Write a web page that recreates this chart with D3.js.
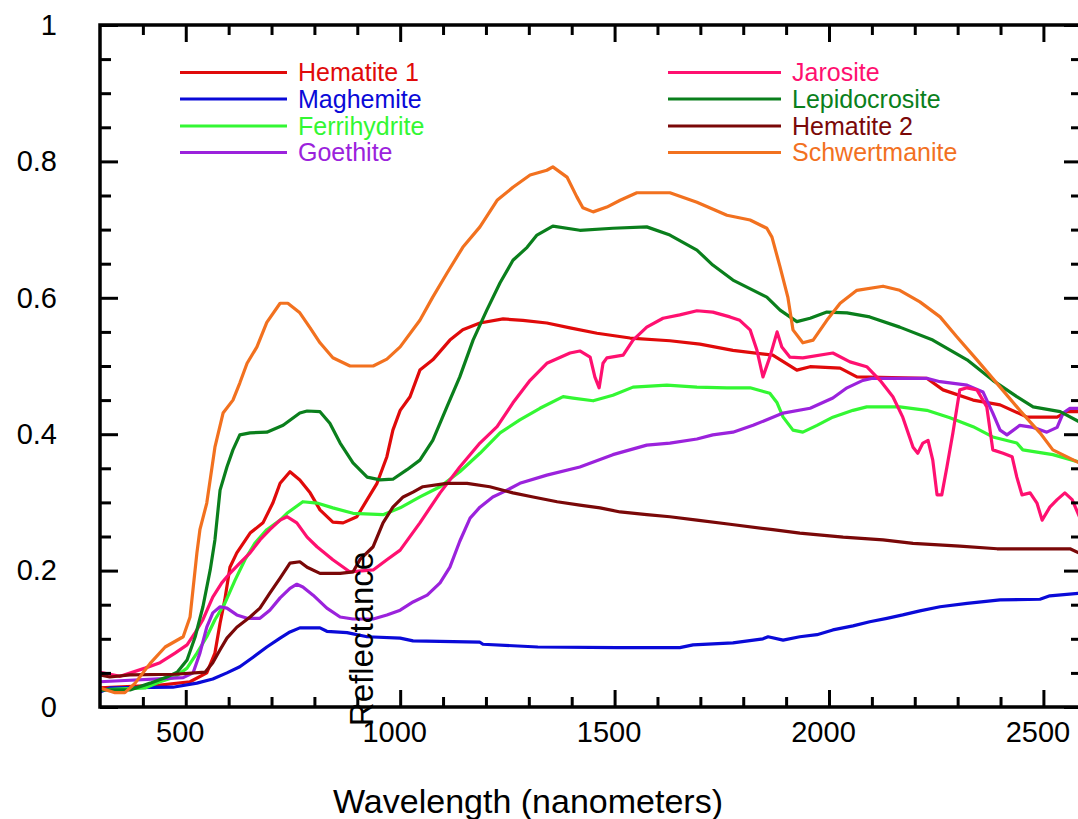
<!DOCTYPE html>
<html>
<head>
<meta charset="utf-8">
<script src="https://cdn.jsdelivr.net/npm/d3@7"></script>
<style>
  body { margin: 0; background: #fff; }
  svg { display: block; }
</style>
</head>
<body>
<svg></svg>
<script>
// series names, in legend order
let seriesNames = ['Hematite 1', 'Maghemite', 'Ferrihydrite', 'Goethite',
                   'Jarosite', 'Lepidocrosite', 'Hematite 2', 'Schwertmanite']

// [wavelength nm, reflectance]
let hematite1 = [[300,0.028],[440,0.032],[510,0.037],[549,0.05],[568,0.079],[580,0.123],[591,0.157],[603,0.205],[619,0.226],[650,0.255],[680,0.27],[703,0.299],[720,0.328],[743,0.345],[766,0.333],[790,0.314],[813,0.289],[843,0.271],[867,0.27],[899,0.279],[923,0.304],[946,0.328],[969,0.367],[983,0.406],[1000,0.435],[1023,0.455],[1046,0.494],[1076,0.509],[1116,0.538],[1146,0.553],[1186,0.563],[1240,0.569],[1286,0.567],[1342,0.563],[1396,0.556],[1459,0.548],[1536,0.541],[1629,0.537],[1699,0.532],[1776,0.523],[1869,0.516],[1925,0.494],[1956,0.499],[2026,0.497],[2065,0.484],[2228,0.482],[2266,0.465],[2336,0.45],[2399,0.443],[2462,0.425],[2532,0.425],[2555,0.433],[2590,0.433]]
let maghemite = [[300,0.022],[323,0.028],[470,0.029],[526,0.035],[563,0.041],[596,0.05],[626,0.059],[657,0.073],[689,0.088],[720,0.101],[743,0.11],[766,0.116],[813,0.116],[829,0.111],[876,0.109],[923,0.103],[1000,0.101],[1030,0.097],[1186,0.095],[1193,0.092],[1321,0.088],[1506,0.087],[1652,0.087],[1683,0.091],[1776,0.094],[1846,0.1],[1858,0.103],[1893,0.098],[1932,0.103],[1972,0.106],[2009,0.113],[2056,0.119],[2095,0.125],[2135,0.13],[2172,0.135],[2212,0.141],[2259,0.147],[2322,0.152],[2399,0.157],[2492,0.158],[2515,0.163],[2590,0.167]]
let ferrihydrite = [[300,0.025],[405,0.028],[440,0.037],[475,0.044],[503,0.057],[526,0.079],[549,0.103],[568,0.128],[591,0.152],[615,0.186],[638,0.216],[661,0.24],[689,0.26],[720,0.274],[736,0.284],[773,0.301],[806,0.299],[843,0.292],[890,0.284],[960,0.282],[1000,0.292],[1046,0.308],[1093,0.323],[1139,0.345],[1186,0.372],[1233,0.402],[1279,0.421],[1326,0.438],[1380,0.455],[1403,0.453],[1450,0.449],[1496,0.457],[1543,0.469],[1622,0.472],[1692,0.469],[1762,0.468],[1816,0.468],[1862,0.46],[1879,0.446],[1893,0.425],[1916,0.406],[1939,0.403],[1972,0.413],[2009,0.425],[2056,0.435],[2088,0.44],[2165,0.44],[2228,0.435],[2282,0.424],[2336,0.411],[2382,0.396],[2438,0.387],[2452,0.377],[2522,0.37],[2590,0.358]]
let goethite = [[300,0.037],[494,0.043],[517,0.05],[533,0.079],[549,0.117],[563,0.138],[580,0.147],[596,0.145],[619,0.135],[643,0.13],[673,0.13],[696,0.142],[720,0.16],[743,0.174],[759,0.18],[773,0.176],[797,0.164],[829,0.145],[860,0.132],[890,0.129],[937,0.129],[969,0.135],[1000,0.142],[1030,0.154],[1063,0.164],[1093,0.182],[1116,0.205],[1139,0.243],[1163,0.277],[1186,0.293],[1216,0.308],[1240,0.315],[1279,0.328],[1342,0.34],[1419,0.352],[1496,0.37],[1575,0.384],[1629,0.387],[1692,0.393],[1729,0.399],[1776,0.403],[1823,0.413],[1893,0.431],[1956,0.438],[2009,0.453],[2042,0.468],[2079,0.479],[2102,0.482],[2228,0.482],[2259,0.477],[2322,0.472],[2359,0.462],[2382,0.431],[2399,0.406],[2415,0.399],[2445,0.413],[2476,0.41],[2508,0.403],[2532,0.41],[2546,0.431],[2562,0.438],[2590,0.438]]
let jarosite = [[300,0.051],[347,0.045],[405,0.057],[440,0.065],[475,0.079],[503,0.091],[522,0.109],[540,0.128],[563,0.161],[584,0.182],[603,0.196],[626,0.211],[650,0.226],[673,0.245],[696,0.26],[720,0.274],[736,0.279],[759,0.27],[783,0.249],[806,0.235],[843,0.216],[883,0.198],[937,0.201],[969,0.216],[1000,0.23],[1046,0.27],[1093,0.314],[1139,0.352],[1186,0.387],[1226,0.411],[1263,0.446],[1303,0.479],[1342,0.504],[1396,0.519],[1419,0.522],[1443,0.513],[1454,0.484],[1464,0.468],[1473,0.504],[1482,0.512],[1520,0.516],[1543,0.538],[1575,0.557],[1613,0.57],[1652,0.575],[1692,0.581],[1729,0.579],[1769,0.572],[1792,0.567],[1816,0.553],[1832,0.523],[1846,0.484],[1862,0.513],[1879,0.55],[1890,0.528],[1909,0.513],[1939,0.512],[2009,0.519],[2049,0.506],[2088,0.499],[2119,0.479],[2149,0.455],[2172,0.425],[2196,0.381],[2207,0.372],[2219,0.387],[2231,0.391],[2242,0.362],[2252,0.311],[2263,0.311],[2275,0.352],[2289,0.402],[2305,0.465],[2322,0.468],[2345,0.465],[2368,0.44],[2382,0.377],[2406,0.372],[2427,0.367],[2438,0.337],[2450,0.311],[2469,0.314],[2485,0.299],[2497,0.274],[2515,0.293],[2532,0.304],[2550,0.314],[2567,0.304],[2590,0.27]]
let lepidocrosite = [[300,0.025],[370,0.025],[417,0.035],[456,0.044],[480,0.051],[503,0.069],[522,0.103],[540,0.147],[557,0.201],[568,0.245],[580,0.318],[596,0.352],[610,0.377],[626,0.399],[650,0.402],[689,0.403],[727,0.413],[766,0.431],[783,0.434],[813,0.433],[836,0.416],[860,0.387],[890,0.358],[923,0.337],[953,0.333],[983,0.334],[1016,0.348],[1046,0.362],[1076,0.391],[1109,0.44],[1139,0.484],[1170,0.538],[1202,0.582],[1233,0.622],[1263,0.655],[1296,0.674],[1319,0.692],[1356,0.705],[1419,0.699],[1496,0.702],[1575,0.704],[1629,0.692],[1692,0.67],[1729,0.648],[1776,0.626],[1855,0.601],[1886,0.582],[1925,0.565],[1956,0.57],[1995,0.579],[2042,0.578],[2095,0.572],[2165,0.557],[2242,0.538],[2322,0.509],[2382,0.479],[2438,0.455],[2476,0.44],[2539,0.433],[2590,0.416]]
let hematite2 = [[300,0.047],[323,0.044],[370,0.047],[475,0.048],[545,0.051],[563,0.065],[580,0.084],[596,0.101],[619,0.117],[650,0.132],[673,0.145],[696,0.167],[720,0.189],[743,0.211],[766,0.213],[783,0.205],[813,0.196],[860,0.196],[890,0.198],[906,0.216],[937,0.235],[960,0.27],[983,0.293],[1007,0.308],[1030,0.315],[1053,0.323],[1109,0.328],[1156,0.328],[1209,0.323],[1263,0.314],[1310,0.308],[1366,0.301],[1419,0.296],[1466,0.292],[1513,0.286],[1575,0.282],[1629,0.279],[1692,0.274],[1769,0.268],[1869,0.26],[1932,0.255],[2033,0.249],[2126,0.245],[2196,0.24],[2305,0.236],[2392,0.232],[2562,0.232],[2590,0.224]]
let schwertmanite = [[300,0.028],[335,0.021],[358,0.021],[382,0.035],[417,0.064],[452,0.088],[494,0.103],[510,0.132],[526,0.226],[533,0.26],[549,0.299],[568,0.381],[587,0.431],[610,0.45],[626,0.475],[643,0.504],[666,0.528],[689,0.564],[720,0.592],[738,0.592],[766,0.578],[790,0.556],[813,0.534],[843,0.512],[883,0.5],[937,0.5],[969,0.51],[1000,0.528],[1046,0.567],[1076,0.601],[1109,0.636],[1146,0.674],[1186,0.704],[1226,0.743],[1263,0.762],[1303,0.78],[1342,0.787],[1356,0.792],[1389,0.777],[1412,0.748],[1426,0.732],[1450,0.726],[1482,0.733],[1513,0.743],[1552,0.754],[1629,0.754],[1692,0.74],[1762,0.721],[1816,0.714],[1855,0.702],[1867,0.689],[1886,0.645],[1904,0.601],[1916,0.553],[1939,0.534],[1963,0.538],[1995,0.567],[2026,0.592],[2065,0.611],[2126,0.617],[2165,0.611],[2212,0.594],[2259,0.572],[2298,0.543],[2345,0.509],[2399,0.469],[2445,0.435],[2492,0.402],[2522,0.377],[2590,0.356]]

let seriesData = [hematite1, maghemite, ferrihydrite, goethite,
                  jarosite, lepidocrosite, hematite2, schwertmanite]

// tick values / labels
let xMajorTicks = [500, 1000, 1500, 2000, 2500]
let xTickLabels = ['500', '1000', '1500', '2000', '2500']
let yMajorTicks = [0, 0.2, 0.4, 0.6, 0.8, 1]
let yTickLabels = ['0', '0.2', '0.4', '0.6', '0.8', '1']

let xTitle = 'Wavelength (nanometers)'
let yTitle = 'Reflectance'

// colours kept apart from the data
let colors = ['#e00a0a', '#0a0ad8', '#33f733', '#9b22dc',
              '#ff1070', '#0a7f1c', '#7a0808', '#f2711f']

let width = 1078
let height = 819
let font = '"Liberation Sans", Arial, Helvetica, sans-serif'

let svg = d3.select('svg')
let xScale
let yScale

let drawCanvas = () => {
    svg.attr('width', width)
    svg.attr('height', height)
    svg.append('rect').attr('width', width).attr('height', height).attr('fill', '#fff')
}

let generateScales = () => {
    // plot box runs past the right edge of the picture
    xScale = d3.scaleLinear()
               .domain([300, 2590])
               .range([100, 1082])
    yScale = d3.scaleLinear()
               .domain([0, 1])
               .range([707, 25])
}

let drawLines = () => {
    let line = d3.line()
                 .x((d) => xScale(d[0]))
                 .y((d) => yScale(d[1]))

    svg.append('g')
       .selectAll('path')
       .data(seriesData)
       .enter()
       .append('path')
       .attr('d', (d) => line(d))
       .attr('fill', 'none')
       .attr('stroke', (d, i) => colors[i])
       .attr('stroke-width', 3.2)
       .attr('stroke-linejoin', 'round')
}

let styleAxis = (g) => {
    g.select('.domain').remove()
    g.selectAll('line').attr('stroke', '#000').attr('stroke-width', 3)
    g.selectAll('text').attr('fill', '#000')
     .style('font-family', font).style('font-size', '29px')
}

let generateAxes = () => {
    let x0 = xScale.range()[0], x1 = xScale.range()[1]
    let y0 = yScale.range()[0], y1 = yScale.range()[1]

    let xMinor = d3.range(400, 2600, 100).filter((v) => v % 500 != 0)
    let yMinor = d3.range(1, 20).map((i) => i * 0.05).filter((v, i) => (i + 1) % 4 != 0)

    // bottom: labelled major ticks + minor ticks, all pointing inwards
    svg.append('g')
       .attr('transform', 'translate(0,' + y0 + ')')
       .call(d3.axisBottom(xScale).tickValues(xMajorTicks)
               .tickFormat((d, i) => xTickLabels[i])
               .tickSizeInner(-17).tickSizeOuter(0).tickPadding(14))
       .call(styleAxis)
       .selectAll('text').attr('dx', -6)
    svg.append('g')
       .attr('transform', 'translate(0,' + y0 + ')')
       .call(d3.axisBottom(xScale).tickValues(xMinor).tickFormat('')
               .tickSizeInner(-10).tickSizeOuter(0))
       .call(styleAxis)

    // top
    svg.append('g')
       .attr('transform', 'translate(0,' + y1 + ')')
       .call(d3.axisTop(xScale).tickValues(xMajorTicks).tickFormat('')
               .tickSizeInner(-17).tickSizeOuter(0))
       .call(styleAxis)
    svg.append('g')
       .attr('transform', 'translate(0,' + y1 + ')')
       .call(d3.axisTop(xScale).tickValues(xMinor).tickFormat('')
               .tickSizeInner(-10).tickSizeOuter(0))
       .call(styleAxis)

    // left, with labels
    svg.append('g')
       .attr('transform', 'translate(' + x0 + ',0)')
       .call(d3.axisLeft(yScale).tickValues(yMajorTicks)
               .tickFormat((d, i) => yTickLabels[i])
               .tickSizeInner(-18).tickSizeOuter(0).tickPadding(43))
       .call(styleAxis)
    svg.append('g')
       .attr('transform', 'translate(' + x0 + ',0)')
       .call(d3.axisLeft(yScale).tickValues(yMinor).tickFormat('')
               .tickSizeInner(-11).tickSizeOuter(0))
       .call(styleAxis)

    // right
    svg.append('g')
       .attr('transform', 'translate(' + x1 + ',0)')
       .call(d3.axisRight(yScale).tickValues(yMajorTicks).tickFormat('')
               .tickSizeInner(-18).tickSizeOuter(0))
       .call(styleAxis)
    svg.append('g')
       .attr('transform', 'translate(' + x1 + ',0)')
       .call(d3.axisRight(yScale).tickValues(yMinor).tickFormat('')
               .tickSizeInner(-11).tickSizeOuter(0))
       .call(styleAxis)

    // box
    svg.append('rect')
       .attr('x', x0).attr('y', y1)
       .attr('width', x1 - x0).attr('height', y0 - y1)
       .attr('fill', 'none')
       .attr('stroke', '#000')
       .attr('stroke-width', 3.5)

    svg.append('text')
       .attr('x', 528).attr('y', 813)
       .attr('text-anchor', 'middle')
       .style('font-family', font).style('font-size', '34px')
       .text(xTitle)

    // y title sits inside the plot in the original
    svg.append('text')
       .attr('transform', 'translate(373,639) rotate(-90)')
       .attr('text-anchor', 'middle')
       .style('font-family', font).style('font-size', '33px')
       .text(yTitle)
}

let drawLegend = () => {
    let rowY = [72.5, 99, 126, 152.5]
    // left column / right column: line start, line end, text start
    let cols = [[180, 287, 298], [668, 781, 792]]
    let legend = svg.append('g')
    seriesNames.forEach((name, i) => {
        let c = cols[Math.floor(i / 4)]
        let y = rowY[i % 4]
        legend.append('line')
              .attr('x1', c[0]).attr('x2', c[1])
              .attr('y1', y).attr('y2', y)
              .attr('stroke', colors[i]).attr('stroke-width', 3)
        legend.append('text')
              .attr('x', c[2]).attr('y', y)
              .attr('dy', '0.35em')
              .attr('fill', colors[i])
              .style('font-family', font).style('font-size', '25px')
              .text(name)
    })
}

drawCanvas()
generateScales()
drawLines()
drawLegend()
generateAxes()
</script>
</body>
</html>
